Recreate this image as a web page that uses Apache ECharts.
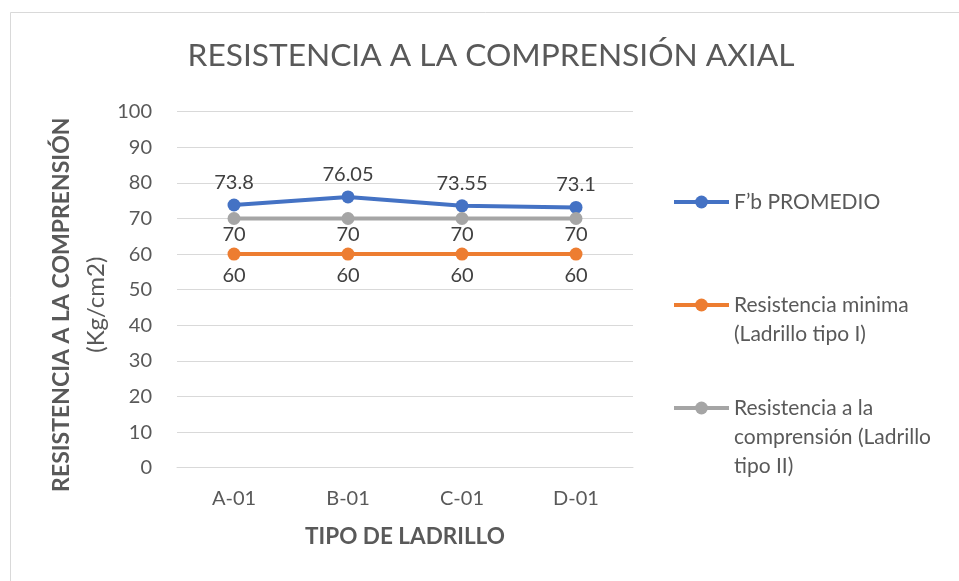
<!DOCTYPE html>
<html>
<head>
<meta charset="utf-8">
<script src="https://cdn.jsdelivr.net/npm/echarts@6/dist/echarts.min.js"></script>
<style>
  html, body { margin: 0; padding: 0; background: #fff; }
  #chart-area { width: 959px; height: 581px; }
</style>
</head>
<body>
<div id="chart-area"></div>
<script>
// datos
const categorias = ['A-01', 'B-01', 'C-01', 'D-01'];
const fbPromedio = [73.8, 76.05, 73.55, 73.1];
const resMinima = [60, 60, 60, 60];
const resTipoII = [70, 70, 70, 70];
const nombres = [
  'F\u2019b PROMEDIO',
  'Resistencia minima (Ladrillo tipo I)',
  'Resistencia a la comprensi\u00f3n (Ladrillo tipo II)'
];
// texto de leyenda partido en lineas como en el original
const leyendaTexto = [
  'F\u2019b PROMEDIO',
  '\nResistencia minima\n(Ladrillo tipo I)',
  '\n\nResistencia a la\ncomprensi\u00f3n (Ladrillo\ntipo II)'
];
const colores = ['#4472C4', '#ED7D31', '#A5A5A5'];

const fuente = 'Lato, "Open Sans", sans-serif';
const gris = '#595959';

const myChart = echarts.init(document.getElementById('chart-area'));

// una leyenda por serie, centrada en la primera linea del texto
const legendTops = [187.5, 261.5, 335.5];
const legends = nombres.map((n, i) => ({
  data: [n],
  orient: 'vertical',
  left: 672,
  top: legendTops[i],
  padding: 0,
  itemWidth: 55,
  itemHeight: 16,
  itemGap: 0,
  lineStyle: { width: 4 },
  formatter: () => leyendaTexto[i],
  textStyle: { fontFamily: fuente, fontSize: 21, color: gris, lineHeight: 29 }
}));

function serie(name, data, color, pos, dist) {
  return {
    name: name,
    type: 'line',
    data: data,
    symbol: 'circle',
    symbolSize: 13,
    lineStyle: { color: color, width: 4 },
    itemStyle: { color: color },
    label: {
      show: true,
      position: pos,
      distance: dist,
      fontFamily: fuente,
      fontSize: 20,
      lineHeight: 24,
      color: '#404040'
    },
    emphasis: { disabled: true }
  };
}

const option = {
  animation: false,
  backgroundColor: '#fff',
  title: {
    text: 'RESISTENCIA A LA COMPRENSI\u00d3N AXIAL',
    left: 491,
    textAlign: 'center',
    top: 36,
    padding: 0,
    textStyle: { fontFamily: fuente, fontWeight: 'normal', fontSize: 31.7, color: gris, lineHeight: 40 }
  },
  legend: legends,
  graphic: [{
    type: 'rect',
    shape: { x: 10.5, y: 12.5, width: 1200, height: 1200 },
    style: { fill: 'none', stroke: '#d9d9d9', lineWidth: 1 },
    silent: true
  }],
  grid: { left: 177, right: 326, top: 111.7, bottom: 113.3, containLabel: false },
  xAxis: {
    type: 'category',
    data: categorias,
    boundaryGap: true,
    axisLine: { show: true, lineStyle: { color: '#d9d9d9' } },
    axisTick: { show: false },
    axisLabel: { margin: 21, fontFamily: fuente, fontSize: 20, color: gris },
    name: 'TIPO DE LADRILLO',
    nameLocation: 'middle',
    nameGap: 58,
    nameTextStyle: { fontFamily: fuente, fontWeight: 'bold', fontSize: 22.5, color: gris }
  },
  yAxis: {
    type: 'value',
    min: 0,
    max: 100,
    interval: 10,
    axisLine: { show: false },
    axisTick: { show: false },
    splitLine: { lineStyle: { color: '#d9d9d9', width: 1 } },
    axisLabel: { margin: 25, fontFamily: fuente, fontSize: 20, color: gris },
    name: '{b|RESISTENCIA A LA COMPRENSI\u00d3N}\n{n|(Kg/cm2)}',
    nameLocation: 'middle',
    nameGap: 64,
    nameTextStyle: {
      padding: [0, 30, 0, 0],
      rich: {
        b: { fontFamily: fuente, fontWeight: 'bold', fontSize: 23, color: gris, lineHeight: 34 },
        n: { fontFamily: fuente, fontSize: 24, color: gris, lineHeight: 34 }
      }
    }
  },
  series: [
    serie(nombres[0], fbPromedio, colores[0], 'top', 4),
    serie(nombres[1], resMinima, colores[1], 'bottom', 3),
    serie(nombres[2], resTipoII, colores[2], 'bottom', -2)
  ]
};

option && myChart.setOption(option);
</script>
</body>
</html>
